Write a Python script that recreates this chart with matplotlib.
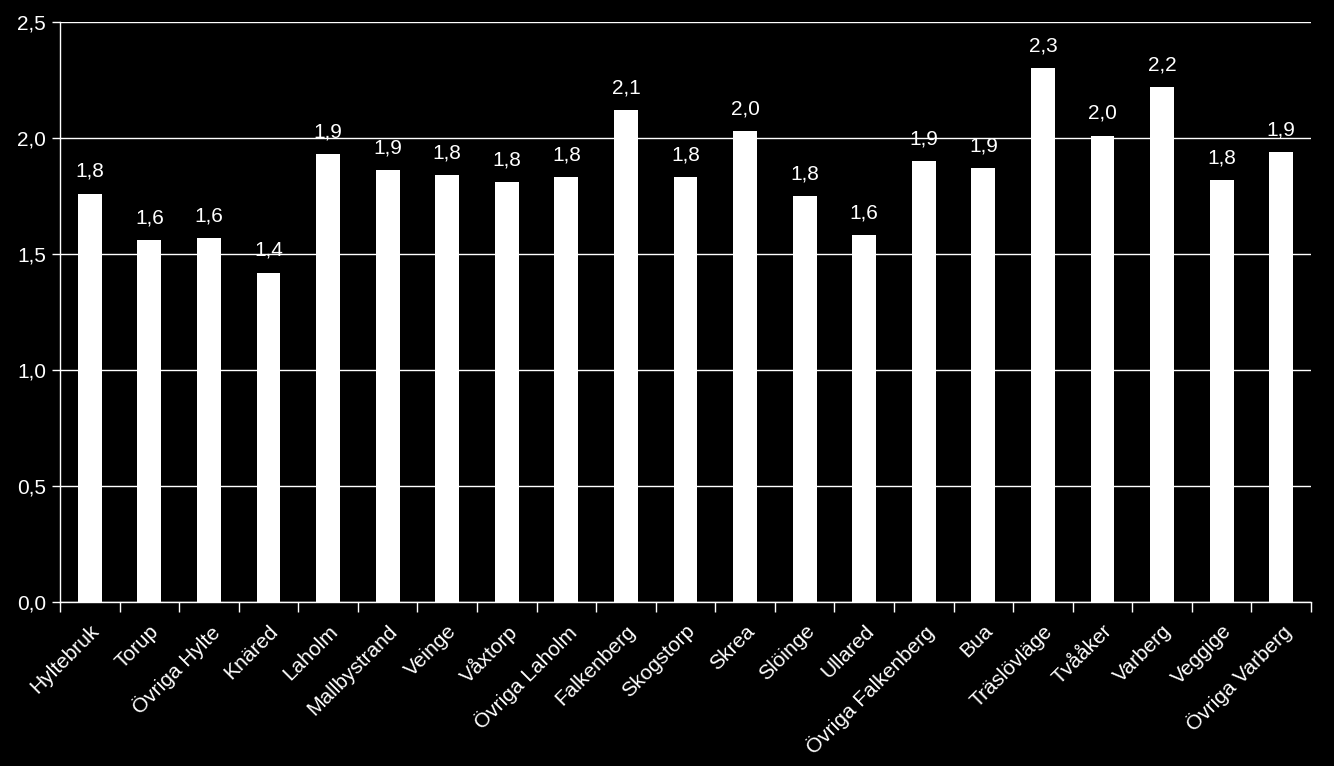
import numpy as np
import matplotlib.pyplot as plt
from matplotlib.ticker import FuncFormatter, FixedLocator

plt.rcParams['font.family'] = ['Liberation Sans', 'DejaVu Sans']

# data
orter = ['Hyltebruk', 'Torup', 'Övriga Hylte', 'Knäred', 'Laholm', 'Mallbystrand',
         'Veinge', 'Våxtorp', 'Övriga Laholm', 'Falkenberg', 'Skogstorp', 'Skrea',
         'Slöinge', 'Ullared', 'Övriga Falkenberg', 'Bua', 'Träslövläge', 'Tvååker',
         'Varberg', 'Veggige', 'Övriga Varberg']
varden = [1.76, 1.56, 1.57, 1.42, 1.93, 1.86, 1.84, 1.81, 1.83, 2.12, 1.83, 2.03,
          1.75, 1.58, 1.90, 1.87, 2.30, 2.01, 2.22, 1.82, 1.94]
yticks = [0.0, 0.5, 1.0, 1.5, 2.0, 2.5]

fig = plt.figure(figsize=(13.34, 7.66), dpi=100, facecolor='black')
ax = fig.add_axes([60/1334, 1 - 602/766, (1311-60)/1334, (602-22)/766])
ax.set_facecolor('black')

x = np.arange(len(orter))
bars = ax.bar(x, varden, width=0.4, color='white', zorder=3)

# värdeetiketter
for xi, v in zip(x, varden):
    ax.text(xi, v + 0.055, f'{v:.1f}'.replace('.', ','), ha='center', va='bottom',
            color='white', fontsize=15)

ax.set_xlim(-0.5, len(orter) - 0.5)
ax.set_ylim(0, 2.5)
ax.set_yticks(yticks)
ax.yaxis.set_major_formatter(FuncFormatter(lambda v, p: f'{v:.1f}'.replace('.', ',')))
ax.grid(axis='y', color='white', linewidth=1, zorder=0)

ax.set_xticks(x)
ax.set_xticklabels(orter, rotation=45, ha='right', va='top', rotation_mode='anchor')
ax.xaxis.set_minor_locator(FixedLocator(np.arange(-0.5, len(orter), 1.0)))
ax.tick_params(axis='x', which='major', length=0, pad=14, colors='white', labelsize=15)
ax.tick_params(axis='x', which='minor', length=7, color='white', width=1)
ax.tick_params(axis='y', length=6, color='white', width=1, labelcolor='white', labelsize=15, pad=4)

for s in ['top', 'right']:
    ax.spines[s].set_visible(False)
for s in ['left', 'bottom']:
    ax.spines[s].set_color('white')
    ax.spines[s].set_linewidth(1)

fig.savefig('out.png', dpi=100, facecolor='black')
